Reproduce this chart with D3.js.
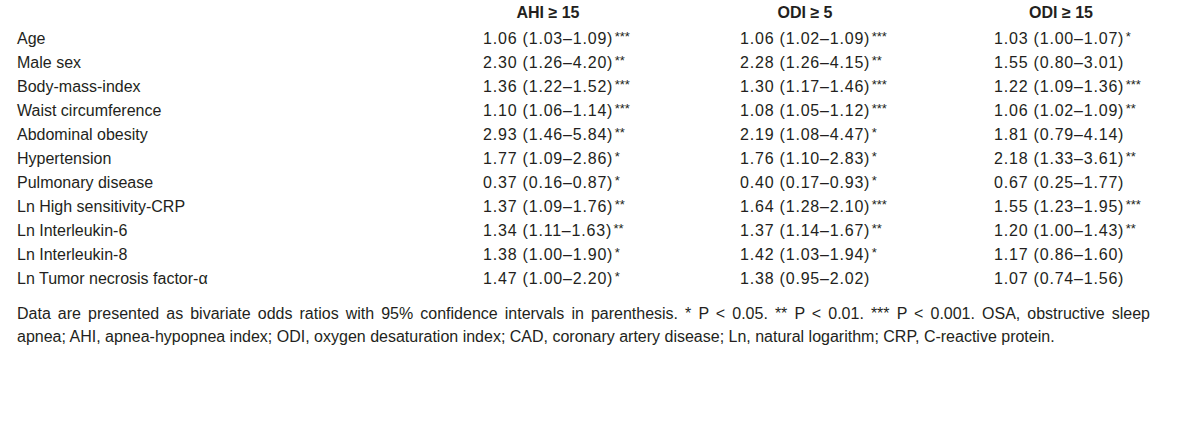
<!DOCTYPE html>
<html><head><meta charset="utf-8">
<script src="https://cdn.jsdelivr.net/npm/d3@7"></script>
<style>body{margin:0;background:#fff}</style>
</head><body>
<svg id="c" width="1200" height="423"></svg>
<script>
const categories = ["Age","Male sex","Body-mass-index","Waist circumference","Abdominal obesity","Hypertension","Pulmonary disease","Ln High sensitivity-CRP","Ln Interleukin-6","Ln Interleukin-8","Ln Tumor necrosis factor-\u03b1"];
const columns = ["AHI \u2265 15","ODI \u2265 5","ODI \u2265 15"];
const ahiOR  = ["1.06","2.30","1.36","1.10","2.93","1.77","0.37","1.37","1.34","1.38","1.47"];
const ahiLo  = ["1.03","1.26","1.22","1.06","1.46","1.09","0.16","1.09","1.11","1.00","1.00"];
const ahiHi  = ["1.09","4.20","1.52","1.14","5.84","2.86","0.87","1.76","1.63","1.90","2.20"];
const ahiSig = ["***","**","***","***","**","*","*","**","**","*","*"];
const odi5OR  = ["1.06","2.28","1.30","1.08","2.19","1.76","0.40","1.64","1.37","1.42","1.38"];
const odi5Lo  = ["1.02","1.26","1.17","1.05","1.08","1.10","0.17","1.28","1.14","1.03","0.95"];
const odi5Hi  = ["1.09","4.15","1.46","1.12","4.47","2.83","0.93","2.10","1.67","1.94","2.02"];
const odi5Sig = ["***","**","***","***","*","*","*","***","**","*",""];
const odi15OR  = ["1.03","1.55","1.22","1.06","1.81","2.18","0.67","1.55","1.20","1.17","1.07"];
const odi15Lo  = ["1.00","0.80","1.09","1.02","0.79","1.33","0.25","1.23","1.00","0.86","0.74"];
const odi15Hi  = ["1.07","3.01","1.36","1.09","4.14","3.61","1.77","1.95","1.43","1.60","1.56"];
const odi15Sig = ["*","","***","**","","**","","***","**","",""];
const footnote = [
 "Data are presented as bivariate odds ratios with 95% confidence intervals in parenthesis. * P < 0.05. ** P < 0.01. *** P < 0.001. OSA, obstructive sleep",
 "apnea; AHI, apnea-hypopnea index; ODI, oxygen desaturation index; CAD, coronary artery disease; Ln, natural logarithm; CRP, C-reactive protein."
];

const series = [
  {or: ahiOR, lo: ahiLo, hi: ahiHi, sig: ahiSig},
  {or: odi5OR, lo: odi5Lo, hi: odi5Hi, sig: odi5Sig},
  {or: odi15OR, lo: odi15Lo, hi: odi15Hi, sig: odi15Sig}
];

const svg = d3.select("#c");
const color = "#231f20";
const font = "'Liberation Sans', Arial, sans-serif";
const fs = 16;

const y = d3.scaleBand().domain(categories).range([26, 290]);
const xHead = d3.scaleOrdinal().domain(columns).range([548, 805, 1061]);
const xCol = d3.scaleOrdinal().domain(columns).range([483, 740, 994]);

const g = svg.append("g").attr("font-family", font).attr("fill", color).attr("font-size", fs);

g.selectAll("text.head").data(columns).join("text")
  .attr("class","head")
  .attr("x", d => xHead(d)).attr("y", 18)
  .attr("text-anchor","middle").attr("font-weight","bold")
  .text(d => d);

g.selectAll("text.cat").data(categories).join("text")
  .attr("class","cat")
  .attr("x", 17).attr("y", d => y(d) + y.bandwidth()/2 + 6)
  .text(d => d);

columns.forEach((col, ci) => {
  const s = series[ci];
  const t = g.selectAll("text.v" + ci).data(categories).join("text")
    .attr("class","v" + ci)
    .attr("x", xCol(col)).attr("y", d => y(d) + y.bandwidth()/2 + 6);
  t.append("tspan").attr("letter-spacing", 0.8)
    .text((d,i) => `${s.or[i]} (${s.lo[i]}\u2013${s.hi[i]})`);
  t.append("tspan").attr("font-size", 13).attr("dy", -3).attr("dx", 1.5)
    .text((d,i) => s.sig[i]);
});

const foot = g.selectAll("text.foot").data(footnote).join("text")
  .attr("class","foot")
  .attr("x", 17).attr("y", (d,i) => 319 + i*23)
  .text(d => d);

// justify first footnote line (typeset justified in the source)
const first = foot.filter((d,i) => i === 0);
const natural = first.node().getComputedTextLength();
const spaces = (footnote[0].match(/ /g) || []).length;
const target = 1150 - 17;
if (natural < target) first.attr("word-spacing", (target - natural) / spaces);
</script>
</body></html>
